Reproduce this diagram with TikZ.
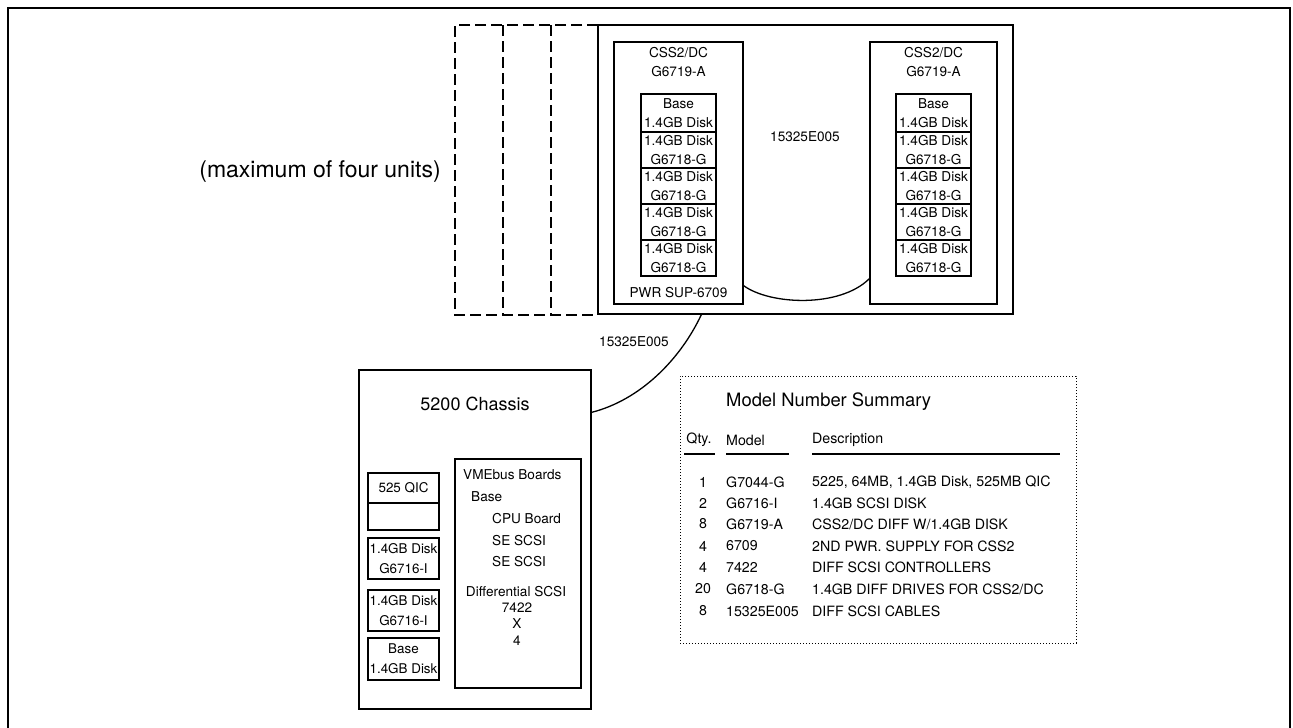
\documentclass[tikz,border=0pt]{standalone}
\usepackage{fontspec}
\setmainfont{TeX Gyre Heros}
\usetikzlibrary{calc}
\begin{document}
\begin{tikzpicture}[x=1pt,y=-1pt,
  box/.style={draw, line width=1.3pt, inner sep=0pt},
  txt/.style={inner sep=0pt, font=\fontsize{13.6}{19}\selectfont, align=center},
  stxt/.style={inner sep=0pt, font=\fontsize{13.4}{20}\selectfont, align=center},
  ttxt/.style={inner sep=0pt, font=\fontsize{14.2}{17}\selectfont},
  wire/.style={line width=1.3pt},
  ghost/.style={line width=1.2pt, dash pattern=on 11pt off 5pt},
  uline/.style={line width=1.5pt},
  dotbox/.style={draw, line width=1pt, dash pattern=on 1pt off 2pt, inner sep=0pt}
]
\useasboundingbox (0,0) rectangle (1293,728);
% outer frame (open at the bottom)
\draw[line width=1.6pt] (8,728) -- (8,8) -- (1290,8) -- (1290,728);

% ghost units (dashed)
\draw[ghost] (598,25) -- (455,25) -- (455,315) -- (598,315);
\draw[ghost] (503,25) -- (503,315);
\draw[ghost] (551,25) -- (551,315);

\node[txt, font=\fontsize{23}{26}\selectfont] (maxlbl) at (320,172) {(maximum of four units)};

% unit container
\node[box, minimum width=415pt, minimum height=289pt] (unit) at (805.5,169.5) {};

% left CSS2/DC
\node[box, minimum width=129pt, minimum height=262pt] (cssL) at (678.5,173) {};
\node[txt] (cssLt) at (678.5,62.5) {CSS2/DC\\G6719-A};
\node[box, txt, minimum width=75pt, minimum height=38pt] (l1) at (678.5,113) {Base\\1.4GB Disk};
\node[box, txt, minimum width=75pt, minimum height=36pt] (l2) at (678.5,150) {1.4GB Disk\\G6718-G};
\node[box, txt, minimum width=75pt, minimum height=36pt] (l3) at (678.5,186) {1.4GB Disk\\G6718-G};
\node[box, txt, minimum width=75pt, minimum height=36pt] (l4) at (678.5,222) {1.4GB Disk\\G6718-G};
\node[box, txt, minimum width=75pt, minimum height=36pt] (l5) at (678.5,258) {1.4GB Disk\\G6718-G};
\node[txt] (pwr) at (678.5,293) {PWR SUP-6709};

% right CSS2/DC
\node[box, minimum width=127pt, minimum height=262pt] (cssR) at (933.5,173) {};
\node[txt] (cssRt) at (933.5,62.5) {CSS2/DC\\G6719-A};
\node[box, txt, minimum width=75pt, minimum height=38pt] (r1) at (933.5,113) {Base\\1.4GB Disk};
\node[box, txt, minimum width=75pt, minimum height=36pt] (r2) at (933.5,150) {1.4GB Disk\\G6718-G};
\node[box, txt, minimum width=75pt, minimum height=36pt] (r3) at (933.5,186) {1.4GB Disk\\G6718-G};
\node[box, txt, minimum width=75pt, minimum height=36pt] (r4) at (933.5,222) {1.4GB Disk\\G6718-G};
\node[box, txt, minimum width=75pt, minimum height=36pt] (r5) at (933.5,258) {1.4GB Disk\\G6718-G};

\node[txt] (cab1) at (805,137) {15325E005};
\draw[wire] ($(cssL.south east)+(0,-19)$) .. controls (770,305) and (840,308) .. ($(cssR.south west)+(0,-26)$);

% chassis
\node[box, minimum width=232pt, minimum height=339pt] (chassis) at (475,539.5) {};
\node[txt, font=\fontsize{18}{20}\selectfont] (chtitle) at (475,404) {5200 Chassis};
\node[txt] (cab2) at (634,342) {15325E005};
\draw[wire] ($(unit.south west)+(104,0)$) .. controls (680,360) and (640,400) .. ($(chassis.north east)+(0,43)$);

% drive bays
\node[box, stxt, minimum width=71pt, minimum height=30pt] (qic) at (403.5,488) {525 QIC};
\node[box, minimum width=71pt, minimum height=27pt] (blank) at (403.5,516.5) {};
\node[box, stxt, minimum width=71pt, minimum height=41pt] (d1) at (403.5,558.5) {1.4GB Disk\\G6716-I};
\node[box, stxt, minimum width=71pt, minimum height=41pt] (d2) at (403.5,610.5) {1.4GB Disk\\G6716-I};
\node[box, stxt, minimum width=71pt, minimum height=42pt] (d3) at (403.5,659) {Base\\1.4GB Disk};

% VMEbus boards
\node[box, minimum width=126pt, minimum height=229pt] (vme) at (518,573.5) {};
\node[txt, anchor=west] (v1) at (463,475) {VMEbus Boards};
\node[txt, anchor=west] (v2) at (471,497) {Base};
\node[txt, anchor=west] (v3) at (492,519) {CPU Board};
\node[txt, anchor=west] (v4) at (492,541) {SE SCSI};
\node[txt, anchor=west] (v5) at (492,562) {SE SCSI};
\node[txt] (v6) at (516,592) {Differential SCSI};
\node[txt] (v7) at (517,608) {7422};
\node[txt] (v8) at (517,624) {X};
\node[txt] (v9) at (517,641) {4};

% model number summary
\node[dotbox, minimum width=396pt, minimum height=267pt] (summary) at (878,509.5) {};
\node[ttxt, anchor=west, font=\fontsize{18.4}{20}\selectfont] (sumtitle) at (726,402) {Model Number Summary};
\node[ttxt] (hq) at (699,440) {Qty.};
\node[ttxt, anchor=west] (hm) at (726,440) {Model};
\node[ttxt, anchor=west] (hd) at (812,440) {Description};
\draw[uline] (684,454) -- (715,454);
\draw[uline] (726,454) -- (789,454);
\draw[uline] (812,454) -- (1060,454);

\foreach \y/\q/\m/\d [count=\i] in {
  482/1/G7044-G/{5225, 64MB, 1.4GB Disk, 525MB QIC},
  503/2/G6716-I/{1.4GB SCSI DISK},
  524/8/G6719-A/{CSS2/DC DIFF W/1.4GB DISK},
  546/4/6709/{2ND PWR. SUPPLY FOR CSS2},
  567/4/7422/{DIFF SCSI CONTROLLERS},
  589/20/G6718-G/{1.4GB DIFF DRIVES FOR CSS2/DC},
  611/8/15325E005/{DIFF SCSI CABLES}} {
  \node[ttxt] (q\i) at (703,\y) {\q};
  \node[ttxt, anchor=west] (m\i) at (726,\y) {\m};
  \node[ttxt, anchor=west] (t\i) at (812,\y) {\d};
}
\end{tikzpicture}
\end{document}
